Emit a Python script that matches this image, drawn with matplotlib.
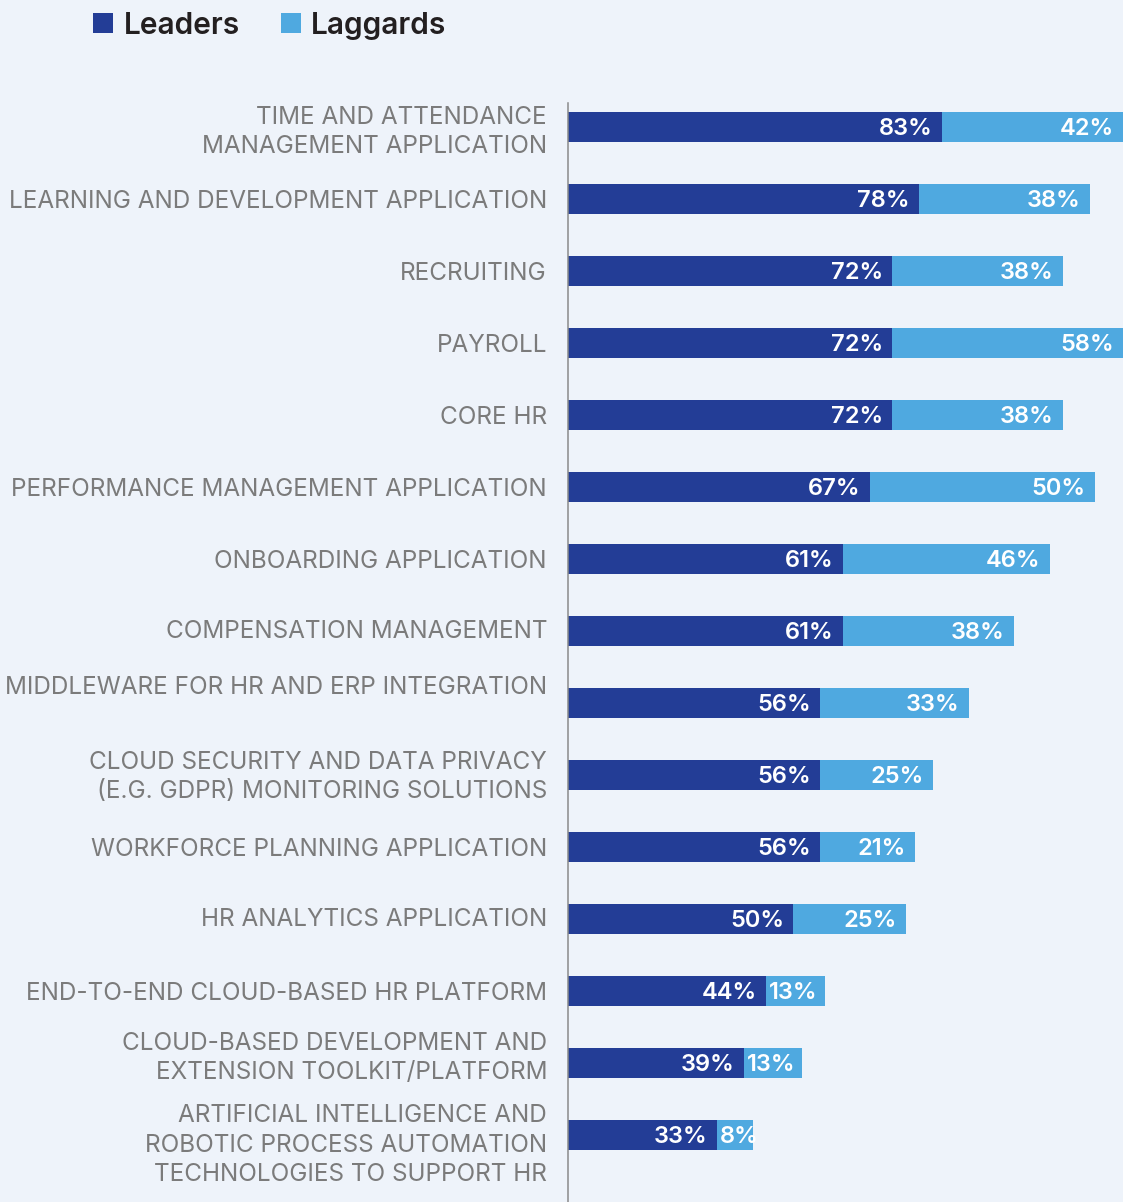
import matplotlib
matplotlib.use("Agg")
import matplotlib.pyplot as plt
from matplotlib.patches import Rectangle

categories = [
    "TIME AND ATTENDANCE\nMANAGEMENT APPLICATION",
    "LEARNING AND DEVELOPMENT APPLICATION",
    "RECRUITING",
    "PAYROLL",
    "CORE HR",
    "PERFORMANCE MANAGEMENT APPLICATION",
    "ONBOARDING APPLICATION",
    "COMPENSATION MANAGEMENT",
    "MIDDLEWARE FOR HR AND ERP INTEGRATION",
    "CLOUD SECURITY AND DATA PRIVACY\n(E.G. GDPR) MONITORING SOLUTIONS",
    "WORKFORCE PLANNING APPLICATION",
    "HR ANALYTICS APPLICATION",
    "END-TO-END CLOUD-BASED HR PLATFORM",
    "CLOUD-BASED DEVELOPMENT AND\nEXTENSION TOOLKIT/PLATFORM",
    "ARTIFICIAL INTELLIGENCE AND\nROBOTIC PROCESS AUTOMATION\nTECHNOLOGIES TO SUPPORT HR",
]
leaders = [83, 78, 72, 72, 72, 67, 61, 61, 56, 56, 56, 50, 44, 39, 33]
laggards = [42, 38, 38, 58, 38, 50, 46, 38, 33, 25, 21, 25, 13, 13, 8]
series_names = ["Leaders", "Laggards"]

# style
W, H = 1123, 1202
BG = "#EEF3FA"
C_LEAD = "#233D96"
C_LAG = "#4FA9E0"
LABEL_COLOR = "#7B7B7B"
FONT = "Inter"
label_nudge_px = [3, 0, 1, 0, 0, 0, 0, -1, -17, 0, 0, -1, 0, -7, 8]

fig = plt.figure(figsize=(W / 100, H / 100), dpi=100, facecolor=BG)
ax_left = 568 / W
ax_top = 103
ax = fig.add_axes([ax_left, 0, 1 - ax_left, (H - ax_top) / H])
ax.set_facecolor(BG)

px_per_unit = 4.5
xmax = (W - 568) / px_per_unit
first_center = 127
spacing = 72
ax.set_xlim(0, xmax)
ax.set_ylim((H - first_center) / spacing, -(first_center - ax_top) / spacing)

ypos = list(range(len(categories)))
bar_h = 30 / spacing
ax.barh(ypos, leaders, height=bar_h, color=C_LEAD, linewidth=0)
ax.barh(ypos, laggards, left=leaders, height=bar_h, color=C_LAG, linewidth=0)

for s in ["top", "right", "bottom"]:
    ax.spines[s].set_visible(False)
ax.spines["left"].set_color("#8A8A8A")
ax.spines["left"].set_linewidth(1.1)
ax.set_xticks([])
ax.set_yticks([])

pt = 72 / 100  # points per pixel

# category labels
for i, lab in enumerate(categories):
    ax.annotate(lab, xy=(0, i), xycoords=("axes fraction", "data"),
                xytext=(-21 * pt, -(label_nudge_px[i] + 2) * pt), textcoords="offset points",
                ha="right", va="center", fontsize=17.5, color=LABEL_COLOR,
                family=FONT, linespacing=1.38)

# value labels
def put_value(start, val, i):
    end = min(start + val, xmax)
    txt = f"{val}%"
    if val < 15:
        ax.annotate(txt, xy=(start, i), xytext=(3 * pt, -2 * pt), textcoords="offset points",
                    ha="left", va="center", fontsize=17, color="white",
                    family=FONT, weight="semibold")
    else:
        ax.annotate(txt, xy=(end, i), xytext=(-9 * pt, -2 * pt), textcoords="offset points",
                    ha="right", va="center", fontsize=17, color="white",
                    family=FONT, weight="semibold")

for i in ypos:
    put_value(0, leaders[i], i)
    put_value(leaders[i], laggards[i], i)

# legend
def fx(px):
    return px / W

def fy(py):
    return 1 - py / H

for name, col, sx, tx in [(series_names[0], C_LEAD, 93, 124), (series_names[1], C_LAG, 281, 311)]:
    fig.patches.append(Rectangle((fx(sx), fy(33)), 20 / W, 20 / H, transform=fig.transFigure,
                                 facecolor=col, edgecolor="none"))
    fig.text(fx(tx), fy(23), name, ha="left", va="center_baseline", fontsize=21.5,
             color="#231F20", family=FONT, weight="semibold")

fig.savefig("out.png", dpi=100, facecolor=BG)
